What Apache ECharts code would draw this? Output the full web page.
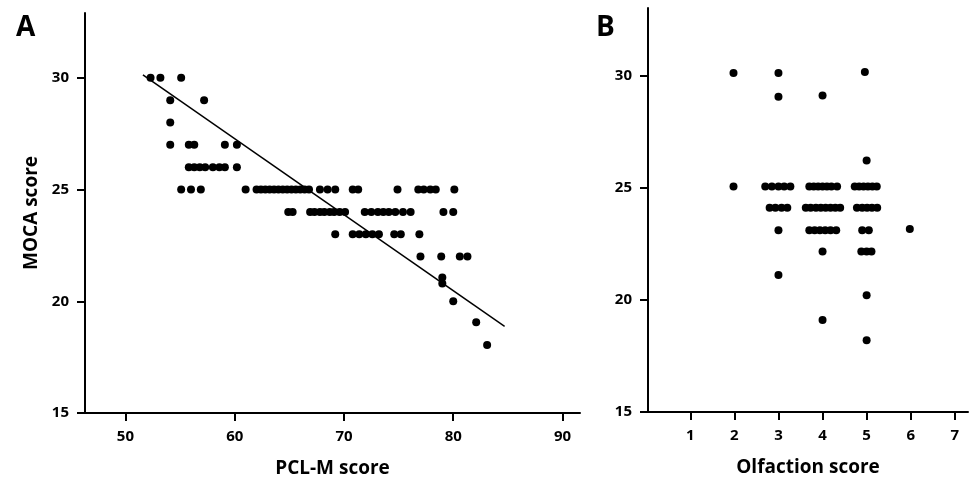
<!DOCTYPE html>
<html><head><meta charset="utf-8">
<script src="https://cdn.jsdelivr.net/npm/echarts@6/dist/echarts.min.js"></script>
<style>html,body{margin:0;padding:0;background:#fff}#c{width:974px;height:490px}</style>
</head><body><div id="c"></div>
<script>
// Panel A: PCL-M score vs MOCA score
var pclX = [
  52.3, 53.2, 55.1,
  54.1, 57.2,
  54.1,
  54.1, 55.8, 56.3, 59.1, 60.2,
  55.8, 56.3, 56.8, 57.3, 58.0, 58.6, 59.1, 60.2,
  55.1, 56.0, 56.9, 61.0, 62.0, 62.4, 62.8, 63.2, 63.6, 64.0, 64.4, 64.8, 65.2, 65.6, 66.0, 66.4, 66.8, 67.8, 68.5, 69.2, 70.8, 71.3, 74.9, 76.8, 77.3, 77.9, 78.4, 80.1,
  64.9, 65.3, 66.9, 67.3, 67.8, 68.2, 68.7, 69.1, 69.6, 70.1, 71.9, 72.5, 73.1, 73.6, 74.1, 74.7, 75.4, 76.1, 79.1, 80.0,
  69.2, 70.8, 71.4, 72.0, 72.6, 73.2, 74.6, 75.2, 76.9,
  77.0, 78.9, 80.6, 81.3,
  79.0, 79.0, 80.0, 82.1, 83.1
];
var mocaA = [
  30, 30, 30,
  29, 29,
  28,
  27, 27, 27, 27, 27,
  26, 26, 26, 26, 26, 26, 26, 26,
  25, 25, 25, 25, 25, 25, 25, 25, 25, 25, 25, 25, 25, 25, 25, 25, 25, 25, 25, 25, 25, 25, 25, 25, 25, 25, 25, 25,
  24, 24, 24, 24, 24, 24, 24, 24, 24, 24, 24, 24, 24, 24, 24, 24, 24, 24, 24, 24,
  23, 23, 23, 23, 23, 23, 23, 23, 23,
  22, 22, 22, 22,
  21.06, 20.79, 20.0, 19.06, 18.04
];
// regression line endpoints
var fitX = [51.6, 84.7];
var fitY = [30.13, 18.88];

// Panel B: Olfaction score vs MOCA score
var olfX = [
  1.98, 1.98,
  3.0, 3.0, 2.70, 2.85, 3.0, 3.13, 3.27, 2.8, 2.93, 3.07, 3.2, 3.0, 3.0,
  4.0, 3.7, 3.8, 3.9, 4.0, 4.1, 4.2, 4.33, 3.62, 3.73, 3.85, 3.96, 4.07, 4.18, 4.29, 4.40, 3.70, 3.82, 3.94, 4.06, 4.18, 4.31, 4.0, 4.0,
  4.96, 5.0, 4.73, 4.83, 4.93, 5.03, 5.13, 5.23, 4.78, 4.9, 5.01, 5.12, 5.24, 4.9, 5.05, 4.88, 5.0, 5.11, 5.0, 5.0,
  5.98
];
var mocaB = [
  30.1, 25.05,
  30.1, 29.05, 25.05, 25.05, 25.05, 25.05, 25.05, 24.1, 24.1, 24.1, 24.1, 23.1, 21.1,
  29.1, 25.05, 25.05, 25.05, 25.05, 25.05, 25.05, 25.05, 24.1, 24.1, 24.1, 24.1, 24.1, 24.1, 24.1, 24.1, 23.1, 23.1, 23.1, 23.1, 23.1, 23.1, 22.15, 19.1,
  30.15, 26.2, 25.05, 25.05, 25.05, 25.05, 25.05, 25.05, 24.1, 24.1, 24.1, 24.1, 24.1, 23.1, 23.1, 22.15, 22.15, 22.15, 20.2, 18.2,
  23.15
];

var yTicks = [15, 20, 25, 30];
var xTicksA = [50, 60, 70, 80, 90];
var xTicksB = [1, 2, 3, 4, 5, 6, 7];

function pairs(xs, ys) { return xs.map(function (x, i) { return [x, ys[i]]; }); }

var FONT = '"Open Sans", "Liberation Sans", sans-serif';
var lineStyle = { color: '#000', width: 2 };
var tickStyle = { show: true, length: 8, lineStyle: { color: '#000', width: 2 } };
var labelStyle = { color: '#000', fontFamily: FONT, fontWeight: 'bold', fontSize: 15 };
var nameStyle = { color: '#000', fontFamily: FONT, fontWeight: 'bold', fontSize: 19 };

var chart = echarts.init(document.getElementById('c'), null, { renderer: 'canvas' });
chart.setOption({
  animation: false,
  backgroundColor: '#fff',
  title: [
    { text: 'A', left: 11, top: 9, textStyle: { color: '#000', fontFamily: FONT, fontWeight: 'bold', fontSize: 28 } },
    { text: 'B', left: 591, top: 9, textStyle: { color: '#000', fontFamily: FONT, fontWeight: 'bold', fontSize: 28 } }
  ],
  grid: [
    { left: 85, top: 13, width: 495, height: 400 },
    { left: 648, top: 8, width: 320, height: 404 }
  ],
  xAxis: [
    {
      gridIndex: 0, type: 'value', min: 46.3, max: 91.6,
      splitLine: { show: false },
      axisLine: { show: true, onZero: false, lineStyle: lineStyle },
      axisTick: Object.assign({ customValues: xTicksA }, tickStyle),
      axisLabel: Object.assign({ customValues: xTicksA, margin: 16 }, labelStyle),
      name: 'PCL-M score', nameLocation: 'middle', nameGap: 46, nameTextStyle: nameStyle
    },
    {
      gridIndex: 1, type: 'value', min: 0.04, max: 7.3,
      splitLine: { show: false },
      axisLine: { show: true, onZero: false, lineStyle: lineStyle },
      axisTick: Object.assign({ customValues: xTicksB }, tickStyle),
      axisLabel: Object.assign({ customValues: xTicksB, margin: 16 }, labelStyle),
      name: 'Olfaction score', nameLocation: 'middle', nameGap: 46, nameTextStyle: nameStyle
    }
  ],
  yAxis: [
    {
      gridIndex: 0, type: 'value', min: 15, max: 32.9,
      splitLine: { show: false },
      axisLine: { show: true, onZero: false, lineStyle: lineStyle },
      axisTick: Object.assign({ customValues: yTicks }, tickStyle),
      axisLabel: Object.assign({ customValues: yTicks, margin: 16 }, labelStyle),
      name: 'MOCA score', nameLocation: 'middle', nameGap: 44, nameTextStyle: nameStyle
    },
    {
      gridIndex: 1, type: 'value', min: 15, max: 33,
      splitLine: { show: false },
      axisLine: { show: true, onZero: false, lineStyle: lineStyle },
      axisTick: Object.assign({ customValues: yTicks }, tickStyle),
      axisLabel: Object.assign({ customValues: yTicks, margin: 16 }, labelStyle)
    }
  ],
  series: [
    {
      type: 'scatter', xAxisIndex: 0, yAxisIndex: 0, symbol: 'circle', symbolSize: 8,
      itemStyle: { color: '#000', opacity: 1 }, data: pairs(pclX, mocaA)
    },
    {
      type: 'line', xAxisIndex: 0, yAxisIndex: 0, symbol: 'none',
      lineStyle: { color: '#000', width: 1.5 }, data: pairs(fitX, fitY)
    },
    {
      type: 'scatter', xAxisIndex: 1, yAxisIndex: 1, symbol: 'circle', symbolSize: 8,
      itemStyle: { color: '#000', opacity: 1 }, data: pairs(olfX, mocaB)
    }
  ]
});
</script>
</body></html>
